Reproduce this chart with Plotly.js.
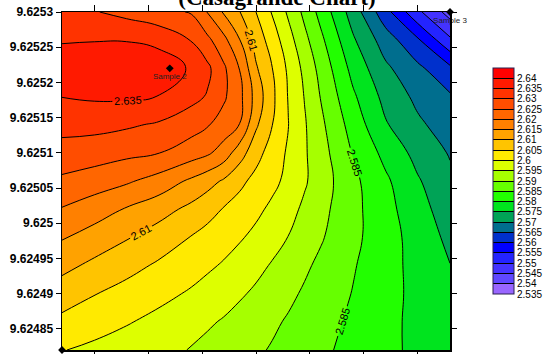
<!DOCTYPE html>
<html>
<head>
<meta charset="utf-8">
<script src="https://cdn.plot.ly/plotly-3.0.1.min.js"></script>
<style>html,body{margin:0;padding:0;background:#fff}#chart{width:551px;height:354px}</style>
</head>
<body>
<div id="chart"></div>
<script>
// grid coordinates (x from Sample 1 to Sample 3, y ascending)
const xVals = [7.64504, 7.6451, 7.64516, 7.64522, 7.64528, 7.64531, 7.64534, 7.64537, 7.6454, 7.64543, 7.64546, 7.64549, 7.64552, 7.64558, 7.64564, 7.6457, 7.64576];
const yVals = [9.62482, 9.62486, 9.6249, 9.62494, 9.62498, 9.62502, 9.62506, 9.6251, 9.62514, 9.62518, 9.62522, 9.62526, 9.6253];
// estimated values, one row per y (bottom to top)
const zRow00 = [2.6002, 2.5989, 2.5975, 2.5962, 2.5948, 2.5938, 2.5927, 2.5917, 2.5907, 2.5896, 2.5884, 2.5872, 2.5860, 2.5835, 2.5810, 2.5791, 2.5775];
const zRow01 = [2.6038, 2.6021, 2.6004, 2.5986, 2.5966, 2.5956, 2.5946, 2.5933, 2.5921, 2.5908, 2.5895, 2.5882, 2.5868, 2.5841, 2.5813, 2.5788, 2.5767];
const zRow02 = [2.6075, 2.6052, 2.6033, 2.6014, 2.5994, 2.5981, 2.5969, 2.5956, 2.5942, 2.5926, 2.5910, 2.5894, 2.5879, 2.5848, 2.5817, 2.5787, 2.5759];
const zRow03 = [2.6114, 2.6089, 2.6066, 2.6043, 2.6020, 2.6008, 2.5995, 2.5979, 2.5963, 2.5946, 2.5927, 2.5908, 2.5890, 2.5854, 2.5819, 2.5784, 2.5751];
const zRow04 = [2.6154, 2.6129, 2.6104, 2.6076, 2.6048, 2.6034, 2.6020, 2.6005, 2.5988, 2.5968, 2.5949, 2.5927, 2.5905, 2.5862, 2.5821, 2.5780, 2.5738];
const zRow05 = [2.6197, 2.6174, 2.6146, 2.6120, 2.6087, 2.6067, 2.6047, 2.6029, 2.6011, 2.5990, 2.5966, 2.5941, 2.5915, 2.5864, 2.5817, 2.5769, 2.5724];
const zRow06 = [2.6241, 2.6225, 2.6207, 2.6180, 2.6141, 2.6119, 2.6094, 2.6062, 2.6035, 2.6013, 2.5987, 2.5956, 2.5925, 2.5862, 2.5809, 2.5755, 2.5711];
const zRow07 = [2.6280, 2.6274, 2.6262, 2.6251, 2.6224, 2.6208, 2.6178, 2.6122, 2.6068, 2.6028, 2.5993, 2.5956, 2.5920, 2.5847, 2.5786, 2.5734, 2.5696];
const zRow08 = [2.6317, 2.6315, 2.6307, 2.6294, 2.6271, 2.6254, 2.6229, 2.6199, 2.6108, 2.6051, 2.6001, 2.5955, 2.5911, 2.5829, 2.5755, 2.5709, 2.5676];
const zRow09 = [2.6351, 2.6357, 2.6357, 2.6349, 2.6315, 2.6296, 2.6258, 2.6213, 2.6131, 2.6061, 2.5997, 2.5948, 2.5898, 2.5808, 2.5735, 2.5688, 2.5656];
const zRow10 = [2.6378, 2.6383, 2.6385, 2.6384, 2.6343, 2.6311, 2.6259, 2.6198, 2.6106, 2.6051, 2.5991, 2.5937, 2.5884, 2.5784, 2.5710, 2.5661, 2.5611];
const zRow11 = [2.6346, 2.6348, 2.6348, 2.6334, 2.6298, 2.6262, 2.6215, 2.6151, 2.6080, 2.6027, 2.5970, 2.5914, 2.5862, 2.5757, 2.5676, 2.5608, 2.5509];
const zRow12 = [2.6320, 2.6303, 2.6285, 2.6267, 2.6246, 2.6198, 2.6145, 2.6101, 2.6050, 2.5996, 2.5942, 2.5888, 2.5834, 2.5727, 2.5619, 2.5511, 2.5430];
const zGrid = [zRow00, zRow01, zRow02, zRow03, zRow04, zRow05, zRow06, zRow07, zRow08, zRow09, zRow10, zRow11, zRow12];

// contour levels
const levelStart = 2.54, levelEnd = 2.64, levelStep = 0.005;
// band colours, lowest band (<2.54) first, highest (>2.64) last
const bandColors = ['#9966ff', '#6048ff', '#4433ff', '#2424ff', '#0000ff', '#0030cc', '#006e8e', '#00a356',
  '#00e41e', '#22ff00', '#66ff00', '#a6ff00', '#ddff00', '#ffea00', '#ffc400', '#ffa200',
  '#ff8000', '#ff6600', '#ff4d00', '#ff3300', '#ff1a00', '#ff0000'];
const cbTickVals = [2.535, 2.54, 2.545, 2.55, 2.555, 2.56, 2.565, 2.57, 2.575, 2.58, 2.585, 2.59, 2.595, 2.6, 2.605, 2.61, 2.615, 2.62, 2.625, 2.63, 2.635, 2.64];
const cbTickText = ['2.535', '2.54', '2.545', '2.55', '2.555', '2.56', '2.565', '2.57', '2.575', '2.58', '2.585', '2.59', '2.595', '2.6', '2.605', '2.61', '2.615', '2.62', '2.625', '2.63', '2.635', '2.64'];
const cbMin = 2.535, cbMax = 2.645;
const yTickVals = [9.62485, 9.6249, 9.62495, 9.625, 9.62505, 9.6251, 9.62515, 9.6252, 9.62525, 9.6253];
const yTickText = ['9.62485', '9.6249', '9.62495', '9.625', '9.62505', '9.6251', '9.62515', '9.6252', '9.62525', '9.6253'];
const sampleNames = ['Sample 1', 'Sample 2', 'Sample 3'];
const sampleX = [7.64504, 7.64524, 7.64576];
const sampleY = [9.62482, 9.62522, 9.6253];
const titleText = '(Casagrande Chart)';
// line groups (every 0.025) so that only some levels carry labels
const lineStep = 0.025;
const plainLineGroups = [[2.54, 2.64], [2.545, 2.62], [2.55, 2.625], [2.555, 2.63], [2.56, 2.56]];
// labelled levels 2.585, 2.61, 2.635 (upper end widened only to space the labels along each line)
const labelledLineGroup = [2.585, 3.41];

const SANS = 'Liberation Sans, Arial, sans-serif';
const fillScale = bandColors.map((c, j) => [j / (bandColors.length - 1), c]);
const stepScale = [];
bandColors.forEach((c, j) => {
  stepScale.push([j / bandColors.length, c]);
  stepScale.push([(j + 1) / bandColors.length, c]);
});

const traces = [];
traces.push({
  type: 'contour', x: xVals, y: yVals, z: zGrid,
  autocontour: false,
  contours: {start: levelStart, end: levelEnd, size: levelStep, coloring: 'fill', showlines: false},
  colorscale: fillScale, showscale: false, line: {width: 0, smoothing: 1.3}, hoverinfo: 'skip'
});
plainLineGroups.forEach(g => {
  traces.push({
    type: 'contour', x: xVals, y: yVals, z: zGrid, autocontour: false,
    contours: {start: g[0], end: g[1], size: lineStep, coloring: 'none', showlines: true},
    line: {color: '#000', width: 1, smoothing: 1.3}, showscale: false, hoverinfo: 'skip'
  });
});
traces.push({
  type: 'contour', x: xVals, y: yVals, z: zGrid, autocontour: false,
  contours: {start: labelledLineGroup[0], end: labelledLineGroup[1], size: lineStep, coloring: 'none', showlines: true,
    showlabels: true, labelfont: {family: SANS, size: 11, color: '#000'}},
  line: {color: '#000', width: 1, smoothing: 1.3}, showscale: false, hoverinfo: 'skip'
});
// colour key
traces.push({
  type: 'scatter', mode: 'markers', x: [null, null], y: [null, null], hoverinfo: 'skip', showlegend: false,
  marker: {color: [cbMin, cbMax], cmin: cbMin, cmax: cbMax, colorscale: stepScale, showscale: true,
    colorbar: {
      thickness: 21, thicknessmode: 'pixels', len: 226 / 338, lenmode: 'fraction',
      x: 493 / 551, xref: 'container', xanchor: 'left', xpad: 0,
      y: (350 - 294) / 338, yref: 'paper', yanchor: 'bottom', ypad: 0,
      tickmode: 'array', tickvals: cbTickVals, ticktext: cbTickText,
      ticks: 'inside', ticklen: 21, tickwidth: 1, tickcolor: '#000',
      tickfont: {family: SANS, size: 10, color: '#000'},
      outlinecolor: '#2a2050', outlinewidth: 1, borderwidth: 0
    }}
});
// samples
traces.push({
  type: 'scatter', mode: 'markers+text', x: sampleX, y: sampleY, text: sampleNames,
  textposition: 'bottom center', textfont: {family: SANS, size: 8, color: '#222'},
  marker: {symbol: 'diamond', size: 6, color: '#000'}, cliponaxis: false, showlegend: false, hoverinfo: 'skip'
});

const layout = {
  width: 551, height: 354,
  margin: {l: 62, r: 101, t: 12, b: 4},
  paper_bgcolor: '#fff', plot_bgcolor: '#fff',
  showlegend: false,
  title: {text: titleText, font: {family: 'Liberation Serif, Times New Roman, serif', size: 23, weight: 'bold', color: '#000'},
    x: 277 / 551, xanchor: 'center', xref: 'container', y: 1 - 5 / 354, yref: 'container', yanchor: 'bottom'},
  xaxis: {range: [xVals[0], xVals[xVals.length - 1]], tick0: 7.6451, dtick: 0.0001, ticks: 'outside', ticklen: 6,
    tickcolor: '#000', tickwidth: 1, showline: true, linecolor: '#000', linewidth: 1.5, mirror: 'ticks',
    showgrid: false, zeroline: false, automargin: false,
    tickfont: {family: SANS, size: 12, weight: 'bold', color: '#000'}},
  yaxis: {range: [yVals[0], yVals[yVals.length - 1]], tickmode: 'array', tickvals: yTickVals, ticktext: yTickText,
    ticks: 'outside', ticklen: 5, tickcolor: '#000', tickwidth: 1, showline: true, linecolor: '#000', linewidth: 1.5,
    mirror: 'ticks', showgrid: false, zeroline: false, automargin: false,
    tickfont: {family: SANS, size: 12, weight: 'bold', color: '#000'}}
};
Plotly.newPlot('chart', traces, layout, {displayModeBar: false, staticPlot: true});
</script>
</body>
</html>
